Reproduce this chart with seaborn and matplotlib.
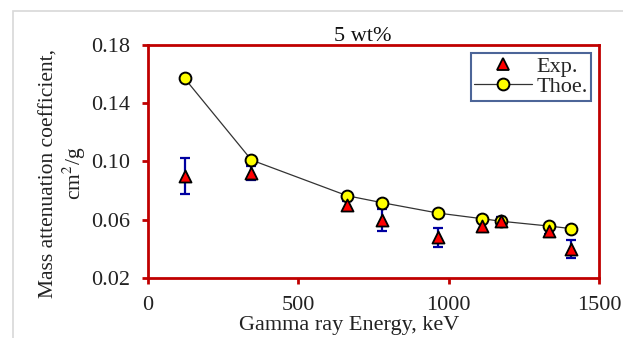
import numpy as np
import pandas as pd
import matplotlib
matplotlib.use("Agg")
import matplotlib.pyplot as plt
from matplotlib.lines import Line2D
from matplotlib.patches import Rectangle
import seaborn as sns

# Gamma-ray energies (keV) and mass attenuation coefficients (cm^2/g)
energy_kev = [122, 344, 662, 779, 964, 1112, 1173, 1332, 1408]
mu_exp = [0.090, 0.092, 0.070, 0.060, 0.048, 0.056, 0.059, 0.052, 0.040]
mu_exp_err = [0.0125, 0.005, 0.003, 0.0077, 0.0065, 0.004, 0.003, 0.002, 0.006]
mu_theory = [0.157, 0.101, 0.0765, 0.0717, 0.0646, 0.0607, 0.0590, 0.0557, 0.0539]

x_ticks = [0, 500, 1000, 1500]
y_ticks = [0.02, 0.06, 0.10, 0.14, 0.18]

df = pd.DataFrame({"energy": energy_kev, "exp": mu_exp, "err": mu_exp_err,
                   "theory": mu_theory})

sns.set_theme(style="white")
plt.rcParams["font.family"] = ["Liberation Serif", "DejaVu Serif"]
plt.rcParams["mathtext.fontset"] = "stix"

red = "#C00000"
fs = 16
fig = plt.figure(figsize=(6.23, 3.38), dpi=100)
ax = fig.add_axes([0.2376, 0.1775, 0.724, 0.6894])

# light frame around the chart
fig.patches.append(Rectangle((13 / 623, -0.1), 1.2, 1 - 11 / 338 + 0.1,
                             transform=fig.transFigure, fill=False,
                             edgecolor="#D8D8D8", linewidth=1.2, zorder=0))

# theoretical curve
sns.lineplot(data=df, x="energy", y="theory", ax=ax, color="#333333",
             linewidth=0.9, marker="o", markersize=8.5,
             markerfacecolor="#FFFF00", markeredgecolor="black",
             markeredgewidth=1.4, zorder=3)

# experimental points with error bars
ax.errorbar(df["energy"], df["exp"], yerr=df["err"], fmt="none",
            ecolor="#0000A0", elinewidth=1.6, capsize=3.3, capthick=1.6, zorder=2)
sns.scatterplot(data=df, x="energy", y="exp", ax=ax, marker="^", s=75,
                color="#FF0000", edgecolor="black", linewidth=1.3, zorder=4)

ax.set_xlim(0, 1500)
ax.set_ylim(0.02, 0.18)
ax.set_xticks(x_ticks)
ax.set_yticks(y_ticks)
ax.set_xticklabels([str(t) for t in x_ticks])
ax.set_yticklabels([f"{t:.2f}" for t in y_ticks])

for s in ax.spines.values():
    s.set_color(red)
    s.set_linewidth(2)
ax.tick_params(axis="both", direction="out", length=4, width=2, color=red,
               labelsize=fs, labelcolor="#222222", pad=9)
ax.tick_params(bottom=True, left=True)

ax.set_xlabel("Gamma ray Energy, keV", fontsize=fs, color="#222222")
ax.xaxis.set_label_coords(0.446, -0.163)
ax.set_ylabel("Mass attenuation coefficient,\ncm$^2$/g", fontsize=15.5,
              color="#222222", linespacing=1.1)
ax.yaxis.set_label_coords(-0.133, 0.45)
ax.set_title("5 wt%", fontsize=fs, color="#111111", pad=3, x=0.475)

handles = [
    Line2D([], [], linestyle="none", marker="^", markersize=9,
           markerfacecolor="#FF0000", markeredgecolor="black", markeredgewidth=1.3),
    Line2D([], [], color="#333333", linewidth=0.9, marker="o", markersize=8.5,
           markerfacecolor="#FFFF00", markeredgecolor="black", markeredgewidth=1.4),
]
leg = ax.legend(handles, ["Exp.", "Thoe."], loc="upper right", fontsize=fs,
                frameon=True, fancybox=False, borderpad=0.15, handlelength=2.6,
                handletextpad=0.2, labelspacing=0.0, borderaxespad=0.35)
leg.get_frame().set_edgecolor("#1F3F7F")
leg.get_frame().set_linewidth(1.5)

fig.savefig("out.png", dpi=100, facecolor="white")
